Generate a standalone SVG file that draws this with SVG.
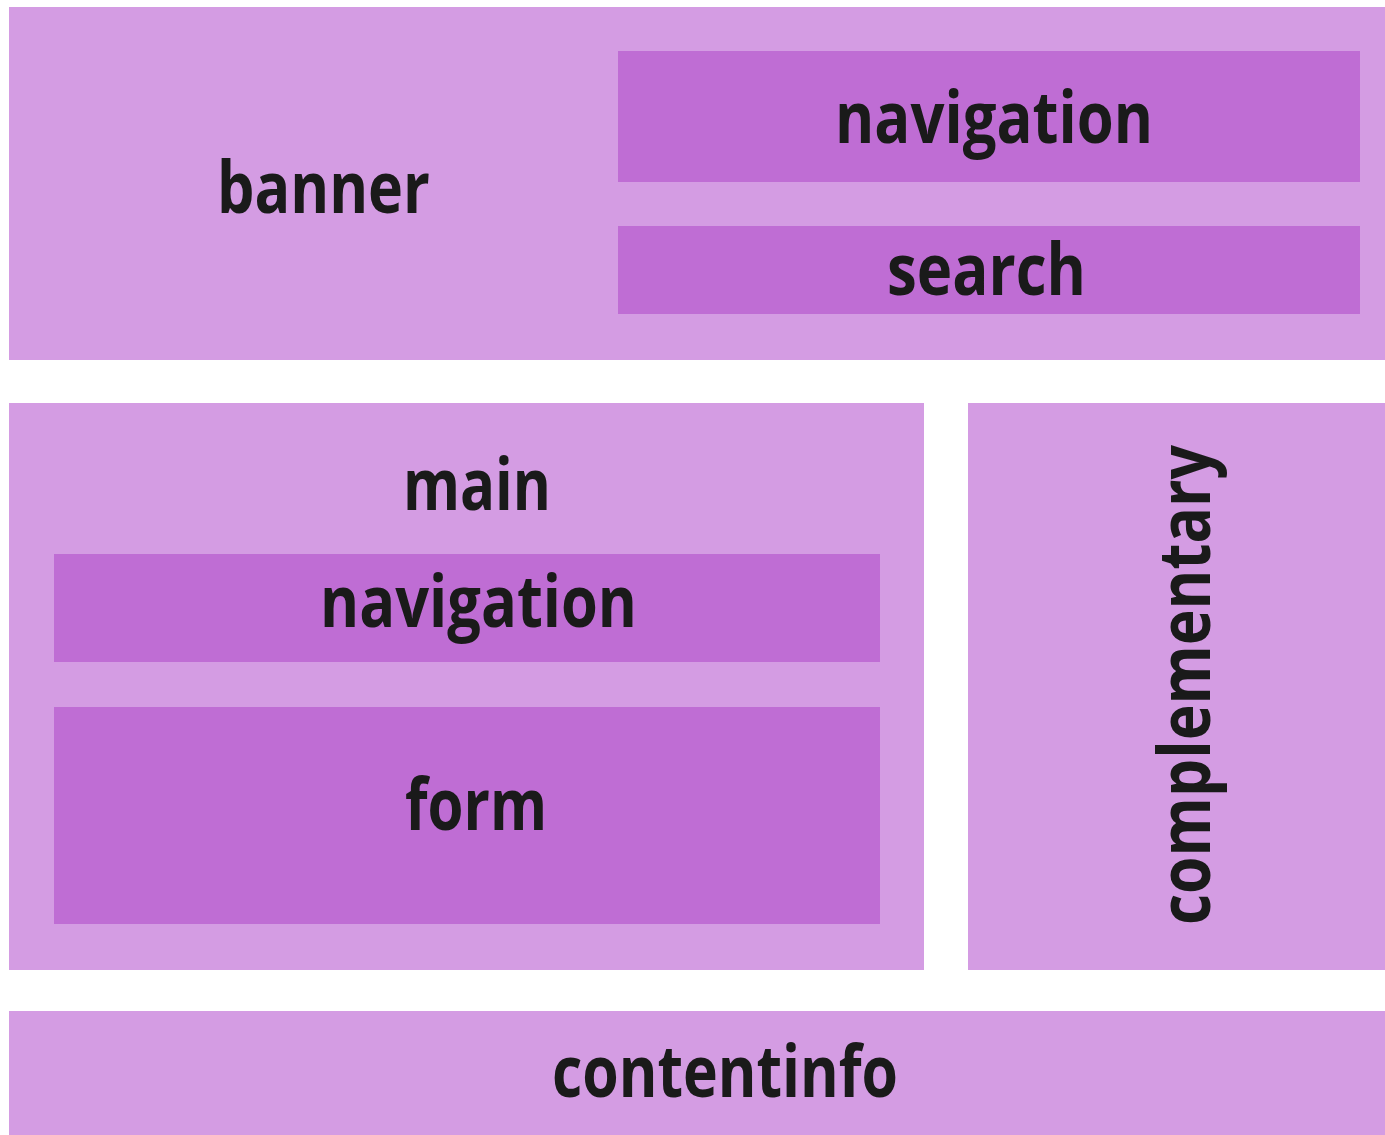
<svg xmlns="http://www.w3.org/2000/svg" width="1385" height="1135" viewBox="0 0 1385 1135">
<style>
.outer{fill:#d49ce3}
.inner{fill:#bf6dd4}
.lbl{font-family:"Open Sans","Liberation Sans",sans-serif;font-weight:700;font-size:72px;fill:#1a1a1a}
</style>
<rect width="1385" height="1135" fill="#ffffff"/>
<g id="banner">
<rect class="outer" x="9" y="7" width="1376" height="353"/>
<text class="lbl" x="217" y="213" textLength="213" lengthAdjust="spacingAndGlyphs">banner</text>
</g>
<g id="banner-navigation">
<rect class="inner" x="618" y="51" width="742" height="131"/>
<text class="lbl" x="835" y="143" textLength="318" lengthAdjust="spacingAndGlyphs">navigation</text>
</g>
<g id="search">
<rect class="inner" x="618" y="226" width="742" height="88"/>
<text class="lbl" x="887" y="295" textLength="199" lengthAdjust="spacingAndGlyphs">search</text>
</g>
<g id="main">
<rect class="outer" x="9" y="403" width="915" height="567"/>
<text class="lbl" x="403" y="510" textLength="148" lengthAdjust="spacingAndGlyphs">main</text>
</g>
<g id="main-navigation">
<rect class="inner" x="54" y="554" width="826" height="108"/>
<text class="lbl" x="320" y="627" textLength="317" lengthAdjust="spacingAndGlyphs">navigation</text>
</g>
<g id="form">
<rect class="inner" x="54" y="707" width="826" height="217"/>
<text class="lbl" x="405" y="830" textLength="142" lengthAdjust="spacingAndGlyphs">form</text>
</g>
<g id="complementary">
<rect class="outer" x="968" y="403" width="417" height="567"/>
<text class="lbl" transform="translate(1210 925) rotate(-90)" x="0" y="0" textLength="480" lengthAdjust="spacingAndGlyphs">complementary</text>
</g>
<g id="contentinfo">
<rect class="outer" x="9" y="1011" width="1376" height="124"/>
<text class="lbl" x="552" y="1097" textLength="346" lengthAdjust="spacingAndGlyphs">contentinfo</text>
</g>
<g id="connectors"></g>
</svg>
